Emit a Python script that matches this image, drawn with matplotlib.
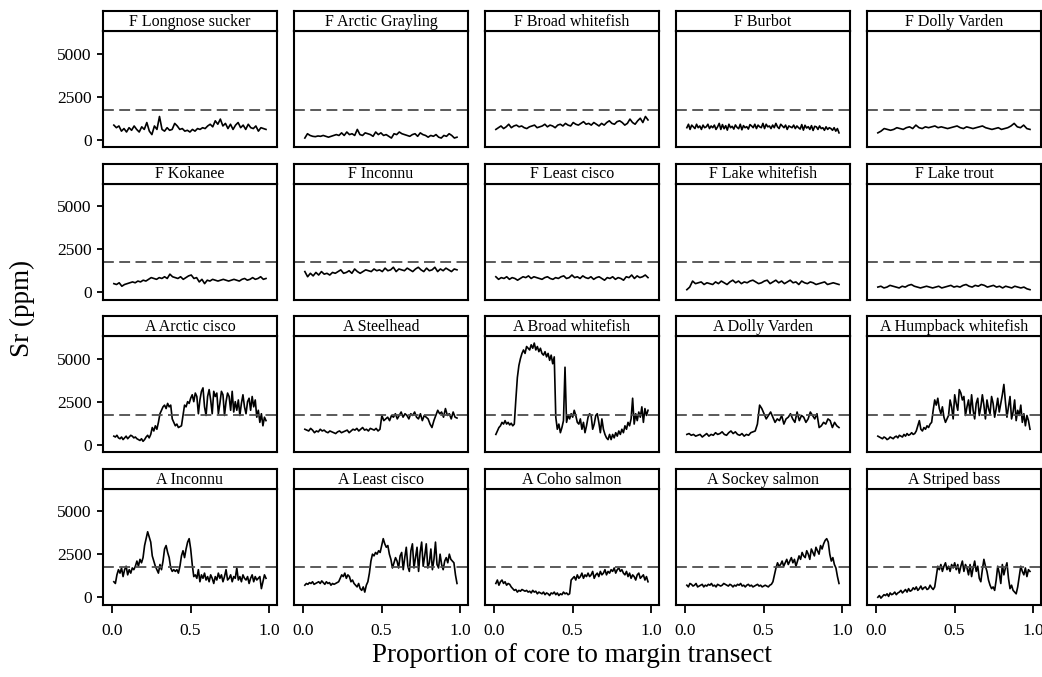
import numpy as np
import matplotlib
matplotlib.use("Agg")
import matplotlib.pyplot as plt

plt.rcParams['font.family'] = ['Liberation Serif', 'DejaVu Serif']

# panel titles, row by row
titles = ["F Longnose sucker", "F Arctic Grayling", "F Broad whitefish", "F Burbot", "F Dolly Varden",
          "F Kokanee", "F Inconnu", "F Least cisco", "F Lake whitefish", "F Lake trout",
          "A Arctic cisco", "A Steelhead", "A Broad whitefish", "A Dolly Varden", "A Humpback whitefish",
          "A Inconnu", "A Least cisco", "A Coho salmon", "A Sockey salmon", "A Striped bass"]

threshold = 1730  # dashed reference line (ppm)

# Sr (ppm) along each transect
f_longnose_sucker = [850, 700, 800, 500, 650, 450, 700, 550, 800, 600, 450, 750, 600, 1000, 500, 300, 800, 600,
                     1350, 600, 500, 700, 550, 600, 950, 800, 600, 650, 500, 550, 450, 600, 500, 650, 600, 700,
                     650, 800, 900, 750, 1100, 900, 1200, 800, 950, 650, 900, 600, 850, 1000, 700, 850, 600, 900,
                     700, 650, 800, 500, 700, 650, 600]
f_arctic_grayling = [100, 350, 250, 200, 180, 220, 200, 250, 200, 150, 200, 250, 300, 250, 400, 250, 450, 300,
                     350, 250, 600, 300, 250, 400, 350, 300, 200, 450, 300, 400, 250, 300, 200, 100, 350, 300,
                     450, 350, 300, 250, 200, 300, 350, 200, 400, 300, 250, 150, 250, 200, 300, 150, 100, 250,
                     200, 350, 250, 100, 150]
f_broad_whitefish = [600, 700, 800, 650, 750, 900, 700, 800, 850, 750, 800, 700, 650, 750, 800, 850, 700, 750,
                     800, 900, 750, 850, 800, 700, 850, 900, 800, 950, 850, 800, 1000, 900, 850, 950, 1050, 900,
                     950, 850, 1000, 900, 800, 950, 850, 1000, 1100, 950, 900, 1050, 1100, 1000, 850, 950, 1200,
                     1000, 900, 1100, 1250, 1000, 1350, 1150]
f_burbot = [700, 900, 600, 850, 750, 650, 900, 700, 800, 600, 850, 700, 750, 900, 650, 800, 700, 850, 600, 750,
            950, 600, 880, 640, 820, 560, 900, 700, 780, 620, 860, 720, 640, 900, 580, 820, 700, 760, 620, 880,
            800, 700, 900, 650, 850, 750, 700, 950, 650, 900, 750, 800, 650, 850, 700, 950, 750, 650, 900, 800,
            700, 850, 600, 800, 750, 700, 850, 650, 800, 700, 620, 880, 560, 840, 680, 760, 600, 820, 540, 780,
            750, 600, 800, 650, 700, 550, 750, 600, 700, 650, 550, 700, 500, 650, 400]
f_dolly_varden = [400, 500, 650, 600, 550, 600, 700, 650, 600, 700, 750, 650, 850, 700, 650, 750, 700, 750, 800,
                  700, 750, 700, 650, 700, 750, 800, 700, 650, 750, 700, 650, 700, 750, 800, 700, 650, 600, 650,
                  700, 600, 650, 700, 800, 950, 750, 700, 850, 650, 600]
f_kokanee = [500, 450, 550, 350, 450, 500, 550, 600, 550, 650, 600, 700, 650, 750, 850, 800, 750, 850, 800, 900,
             800, 1050, 900, 850, 800, 900, 750, 850, 950, 1000, 800, 850, 600, 750, 500, 700, 650, 750, 700, 650,
             700, 750, 700, 650, 700, 750, 700, 650, 750, 800, 700, 750, 850, 750, 800, 900, 750, 800]
f_inconnu = [1200, 900, 1100, 950, 1150, 1000, 1200, 1050, 1100, 1000, 1150, 1100, 1200, 1300, 1100, 1150, 1250,
             1100, 1350, 1200, 1100, 1200, 1300, 1250, 1200, 1350, 1250, 1300, 1200, 1400, 1250, 1300, 1450, 1200,
             1350, 1300, 1250, 1400, 1300, 1200, 1350, 1450, 1300, 1200, 1400, 1250, 1300, 1450, 1200, 1350, 1250,
             1400, 1300, 1200, 1350, 1300]
f_least_cisco = [900, 750, 850, 800, 900, 750, 850, 800, 700, 800, 900, 850, 950, 800, 900, 850, 800, 750, 850,
                 900, 800, 750, 850, 800, 900, 950, 800, 850, 1000, 850, 900, 800, 950, 850, 800, 900, 750, 850,
                 900, 800, 700, 850, 800, 900, 750, 850, 800, 700, 900, 850, 1000, 800, 950, 850, 900, 1000, 850]
f_lake_whitefish = [150, 300, 650, 500, 550, 600, 450, 550, 500, 450, 600, 500, 650, 550, 450, 600, 700, 550, 650,
                    500, 600, 550, 650, 700, 600, 500, 550, 650, 700, 500, 600, 700, 550, 650, 500, 600, 700, 550,
                    600, 450, 650, 550, 500, 600, 550, 450, 500, 550, 600, 450, 500, 550, 500, 450]
f_lake_trout = [300, 350, 250, 300, 400, 350, 300, 250, 350, 300, 400, 450, 350, 300, 250, 300, 350, 300, 250, 300,
                350, 250, 300, 350, 400, 300, 350, 300, 400, 450, 350, 300, 400, 350, 450, 400, 300, 350, 400, 300,
                350, 250, 350, 300, 250, 350, 300, 250, 300, 200, 150]

a_arctic_cisco = [500, 450, 550, 400, 350, 450, 300, 400, 500, 350, 450, 550, 500, 400, 450, 350, 300, 250, 350,
                  200, 300, 450, 550, 400, 600, 1000, 800, 1100, 900, 1300, 1800, 2000, 2200, 2300, 2100, 2400,
                  2200, 2300, 1500, 1300, 1100, 1200, 1000, 1050, 1100, 1700, 2300, 2200, 2500, 2400, 2700, 2900,
                  2500, 3000, 2800, 1800, 2600, 3100, 3300, 2200, 1700, 2800, 3200, 2600, 1800, 3100, 2800, 3000,
                  1800, 2400, 3100, 2900, 1700, 2500, 3000, 2800, 2000, 3100, 1900, 2500, 2000, 2600, 1700, 2400,
                  2900, 2200, 1800, 2500, 2700, 2000, 2800, 2200, 2600, 1600, 2000, 1300, 1800, 1100, 1600, 1400]
a_steelhead = [900, 850, 800, 950, 850, 700, 800, 750, 900, 800, 850, 750, 700, 800, 750, 700, 650, 750, 800, 700,
               750, 800, 850, 700, 800, 900, 850, 950, 800, 900, 1000, 850, 900, 800, 950, 900, 850, 950, 800, 900,
               1700, 1400, 1500, 1600, 1400, 1700, 1600, 1800, 1500, 1700, 1900, 1600, 1800, 1700, 1500, 1800,
               1700, 1900, 1600, 1500, 1800, 1400, 1700, 1600, 1500, 1200, 1000, 1400, 1700, 2000, 1800, 1900,
               1600, 2100, 1700, 1800, 1500, 1900, 1600, 1550]
a_broad_whitefish = [600, 800, 1000, 1100, 1300, 1200, 1400, 1200, 1300, 1150, 1250, 1100, 1200, 2600, 3900, 4600,
                     5000, 5300, 5500, 5300, 5700, 5600, 5500, 5800, 5600, 5900, 5500, 5700, 5400, 5600, 5300,
                     5200, 5400, 5100, 5300, 4900, 5200, 4700, 5100, 1600, 900, 1200, 700, 1000, 1400, 4500, 1300,
                     1700, 1500, 1800, 1600, 2000, 1700, 1300, 1200, 1500, 900, 1300, 700, 1100, 1600, 1800, 1700,
                     900, 1200, 1700, 1800, 1300, 700, 1500, 900, 600, 400, 300, 600, 300, 600, 400, 700, 500, 800,
                     600, 900, 700, 1100, 900, 1300, 1100, 1500, 2700, 1200, 1800, 1400, 1900, 1600, 2200, 1300,
                     2100, 1700, 2000]
a_dolly_varden = [600, 650, 550, 600, 500, 550, 600, 450, 550, 650, 500, 600, 550, 700, 600, 650, 750, 600, 550,
                  700, 800, 650, 750, 600, 550, 650, 500, 600, 550, 700, 750, 800, 1200, 2300, 2100, 1800, 1500,
                  1700, 1900, 1600, 1300, 1500, 1400, 1700, 1200, 1500, 1600, 1800, 1500, 1300, 1900, 1400, 1700,
                  1600, 1300, 1500, 1900, 1700, 1500, 1800, 1000, 1100, 1300, 1200, 1500, 1400, 1000, 1300, 1100,
                  1000]
a_humpback_whitefish = [500, 450, 400, 350, 450, 400, 300, 350, 450, 400, 350, 450, 500, 400, 550, 500, 450, 600,
                        500, 650, 550, 600, 700, 600, 650, 800, 1100, 1400, 900, 800, 1000, 900, 1100, 1000, 1200,
                        1300, 2000, 2600, 2300, 2700, 2100, 1800, 2200, 1600, 1300, 1500, 1700, 2600, 2200, 1500,
                        2900, 2400, 2000, 3200, 3000, 2600, 2800, 1700, 2200, 2600, 1800, 2900, 2000, 1500, 2400,
                        2700, 1700, 2200, 2900, 2300, 1500, 2600, 2100, 1800, 2800, 2400, 1600, 2100, 2700, 1900,
                        2400, 2900, 3500, 2500, 1600, 2200, 2800, 1500, 1900, 2600, 1400, 2000, 1700, 2300, 1300,
                        1800, 1100, 1700, 1400, 900]
a_inconnu = [900, 800, 1300, 1600, 1400, 1700, 1200, 1600, 1800, 1300, 1600, 1400, 1700, 1600, 1800, 2100, 1800,
             2200, 2000, 2300, 3000, 3400, 3800, 3500, 3200, 2400, 2100, 1800, 1600, 1400, 1900, 1600, 2100, 2800,
             3000, 2600, 2300, 1700, 1500, 1600, 1500, 1600, 1400, 1800, 2400, 2700, 2300, 2800, 3200, 3400, 2800,
             1900, 1200, 1300, 1100, 1600, 900, 1300, 1100, 1400, 1000, 1200, 900, 1300, 1100, 800, 1200, 1000,
             1400, 1100, 1300, 900, 1200, 1600, 1000, 1100, 1300, 900, 1200, 1100, 1700, 1000, 1200, 900, 1300,
             1100, 1000, 1200, 800, 1100, 1300, 900, 1200, 1000, 1100, 1200, 500, 900, 1300, 1100]
a_least_cisco = [700, 800, 750, 850, 800, 900, 750, 800, 850, 900, 800, 950, 850, 750, 900, 800, 850, 700, 800, 750,
                 800, 850, 900, 1100, 1300, 1200, 1400, 1100, 1300, 1200, 900, 1000, 800, 700, 600, 800, 500, 400,
                 600, 300, 700, 900, 1400, 2100, 2500, 2400, 2600, 2500, 2700, 2600, 3000, 3400, 3100, 2900, 3000,
                 2500, 2200, 1700, 2000, 2300, 2100, 1700, 2400, 2600, 1600, 2300, 2900, 1800, 1500, 2700, 3100,
                 1700, 2300, 2900, 1500, 2600, 3200, 1800, 2400, 3100, 1700, 2000, 2800, 1600, 2200, 3200, 1900,
                 1700, 2500, 1900, 1600, 2100, 2300, 2000, 2500, 2200, 2100, 2000, 1300, 800]
a_coho_salmon = [800, 1000, 700, 900, 1000, 800, 900, 700, 800, 750, 600, 500, 400, 450, 300, 400, 350, 450, 400,
                 350, 400, 300, 350, 250, 400, 300, 350, 200, 300, 250, 200, 300, 150, 250, 200, 100, 250, 200, 300,
                 150, 250, 100, 200, 150, 300, 200, 250, 150, 200, 1000, 1100, 1200, 1000, 1300, 1100, 1200, 1400,
                 1100, 1300, 1200, 1400, 1200, 1300, 1500, 1100, 1300, 1400, 1200, 1500, 1300, 1400, 1600, 1300,
                 1500, 1400, 1600, 1500, 1700, 1400, 1600, 1700, 1500, 1600, 1400, 1300, 1500, 1200, 1400, 1100,
                 1300, 1200, 1000, 1300, 1400, 1100, 1200, 1300, 1000, 1200, 900]
a_sockeye_salmon = [700, 600, 800, 750, 650, 700, 800, 600, 650, 700, 750, 600, 700, 650, 750, 700, 800, 650, 700,
                    600, 750, 700, 650, 700, 800, 750, 700, 650, 750, 700, 600, 700, 650, 750, 700, 800, 650, 700,
                    600, 700, 750, 650, 700, 600, 650, 700, 750, 650, 700, 600, 650, 700, 650, 600, 700, 750, 900,
                    1300, 1700, 2000, 1800, 1900, 2100, 1800, 2000, 2200, 1900, 2100, 2300, 2000, 2200, 1800, 2100,
                    2400, 2200, 2600, 2400, 2300, 2700, 2500, 2200, 2800, 2600, 2400, 2900, 2700, 2500, 3000, 2800,
                    3100, 3300, 3400, 3200, 2500, 2100, 2300, 1900, 1700, 1200, 800]
a_striped_bass = [0, 100, -50, 50, 150, 100, 200, 50, 250, 150, 200, 300, 150, 250, 300, 400, 250, 350, 450, 300,
                  500, 350, 400, 550, 450, 600, 400, 500, 650, 450, 550, 600, 450, 500, 700, 550, 450, 600, 1200,
                  1800, 1600, 1900, 1500, 1800, 2000, 1600, 1800, 1500, 1900, 1700, 2000, 1600, 1900, 1400, 1800,
                  2100, 1500, 1900, 1700, 1300, 1900, 1200, 1700, 2100, 1500, 1800, 1100, 900, 1600, 2200, 1800,
                  1500, 1000, 700, 500, 600, 400, 1000, 1800, 1400, 800, 1900, 1300, 1700, 2000, 1100, 500, 700,
                  400, 300, 200, 600, 1200, 1800, 1500, 1300, 1700, 1200, 1600, 1500]

series = [f_longnose_sucker, f_arctic_grayling, f_broad_whitefish, f_burbot, f_dolly_varden,
          f_kokanee, f_inconnu, f_least_cisco, f_lake_whitefish, f_lake_trout,
          a_arctic_cisco, a_steelhead, a_broad_whitefish, a_dolly_varden, a_humpback_whitefish,
          a_inconnu, a_least_cisco, a_coho_salmon, a_sockeye_salmon, a_striped_bass]

W, H = 1042, 677
fig = plt.figure(figsize=(W / 100, H / 100), dpi=100)

left0, pitch_x, pw = 103, 191, 174
top0, pitch_y, sh, ph = 11, 152.5, 20, 116

for k, (title, y) in enumerate(zip(titles, series)):
    r, c = divmod(k, 5)
    x0 = left0 + c * pitch_x
    st = top0 + r * pitch_y
    ax = fig.add_axes([x0 / W, 1 - (st + sh + ph) / H, pw / W, ph / H])
    sx = fig.add_axes([x0 / W, 1 - (st + sh) / H, pw / W, sh / H])

    xs = np.linspace(0.012, 0.98, len(y))
    ax.plot(xs, y, color='black', lw=1.2)
    ax.axhline(threshold, color='#4d4d4d', lw=1.3, ls=(0, (6, 3)))
    ax.set_xlim(-0.057, 1.05)
    ax.set_ylim(-420, 6310)
    ax.set_xticks([0, 0.5, 1.0])
    ax.set_yticks([0, 2500, 5000])
    ax.tick_params(length=4, width=1.3, labelsize=12.5, colors='black')
    if c == 0:
        ax.set_yticklabels(['0', '2500', '5000'])
        ax.tick_params(axis='y', pad=4)
    else:
        ax.tick_params(axis='y', left=False, labelleft=False)
    if r == 3:
        ax.set_xticklabels(['0.0', '0.5', '1.0'])
        ax.tick_params(axis='x', length=6, pad=7)
    else:
        ax.tick_params(axis='x', bottom=False, labelbottom=False)
    for s in ax.spines.values():
        s.set_linewidth(1.5)

    sx.set_xticks([])
    sx.set_yticks([])
    for s in sx.spines.values():
        s.set_linewidth(1.5)
    sx.text(0.5, 0.45, title, ha='center', va='center', fontsize=11.5, transform=sx.transAxes)

fig.text(22 / W, 1 - 308 / H, 'Sr (ppm)', rotation=90, ha='center', va='center', fontsize=19.5)
fig.text(572 / W, 1 - 655 / H, 'Proportion of core to margin transect', ha='center', va='center', fontsize=19.5)

fig.savefig('out.png', dpi=100)
